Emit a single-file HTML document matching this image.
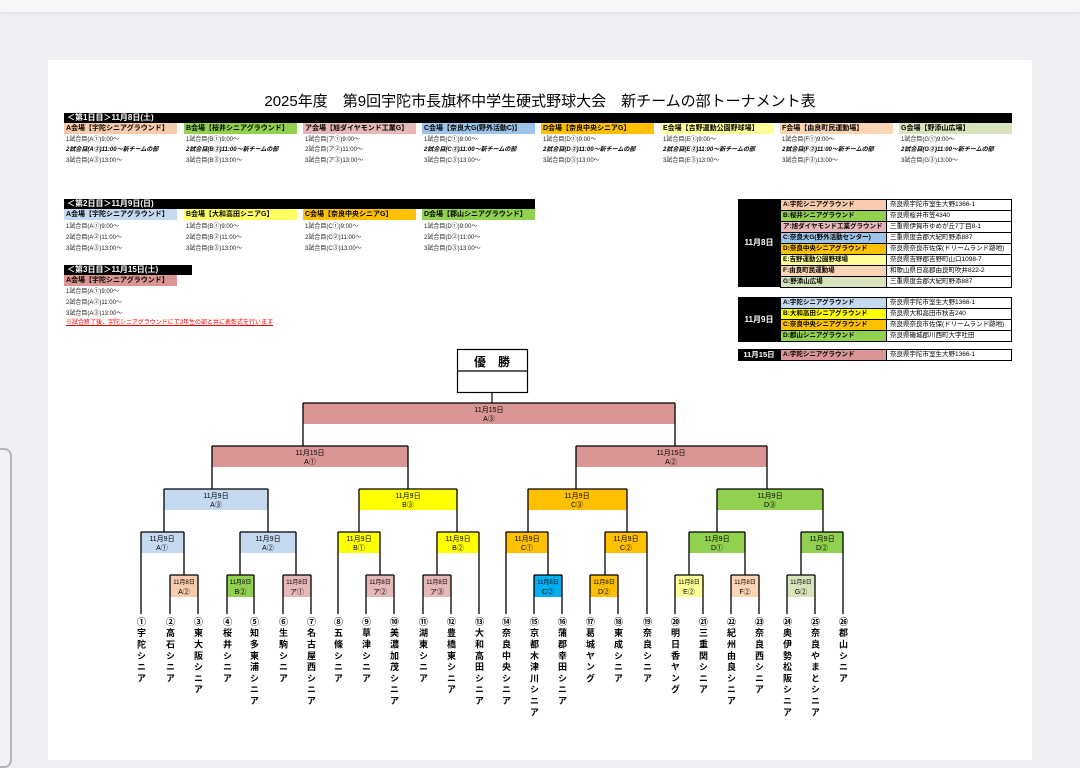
<!DOCTYPE html>
<html><head><meta charset="utf-8">
<style>
*{margin:0;padding:0;box-sizing:border-box}
body{width:1080px;height:748px;overflow:hidden;background:#efeff3;position:relative;font-family:"Liberation Sans","Noto Sans CJK JP",sans-serif;color:#000}
.a{position:absolute;white-space:nowrap}
.bar{position:absolute;background:#000;color:#fff;font-weight:bold;font-size:8px;line-height:9px;padding-left:3px}
.hd{position:absolute;width:113px;height:11px;font-size:7px;font-weight:bold;line-height:11px;padding-left:2px}
.r{position:absolute;font-size:6px;line-height:8px;white-space:nowrap;color:#222}
.bi{font-weight:bold;font-style:italic;color:#000}
.tb{position:absolute;border:1px solid #000;font-size:6.5px;line-height:10px;white-space:nowrap;overflow:hidden}
.tn{font-weight:bold;padding-left:2px;height:10px}
.ad{padding-left:3px;background:#fff;height:10px}
.tm{position:absolute;top:617px;width:12px;font-size:9px;font-weight:bold;writing-mode:vertical-rl;text-orientation:upright;letter-spacing:2.3px;line-height:12px}
</style></head><body>
<div class="a" style="left:0;top:0;width:1080px;height:12px;background:#f7f7fa;box-shadow:0 1px 3px rgba(0,0,0,.08)"></div>
<div class="a" style="left:-20px;top:448px;width:32px;height:320px;border:2px solid #b4b4b8;border-radius:8px;background:#f2f2f6"></div>
<div class="a" style="left:48px;top:60px;width:984px;height:700px;background:#fff"></div>

<div class="a" style="left:0;top:93px;width:1080px;text-align:center;font-size:15px;line-height:18px">2025年度　第9回宇陀市長旗杯中学生硬式野球大会　新チームの部トーナメント表</div>

<!-- Day1 -->
<div class="bar" style="left:64px;top:113px;width:948px;height:10px">＜第1日目＞11月8日(土)</div>
<div class="hd" style="left:64px;top:123px;background:#f8cbad">A会場【宇陀シニアグラウンド】</div>
<div class="hd" style="left:184px;top:123px;background:#92d050">B会場【桜井シニアグラウンド】</div>
<div class="hd" style="left:303px;top:123px;background:#e6b8b7">ア会場【旭ダイヤモンド工業G】</div>
<div class="hd" style="left:422px;top:123px;background:#9dc3e6">C会場【奈良大G(野外活動C)】</div>
<div class="hd" style="left:541px;top:123px;background:#ffc000">D会場【奈良中央シニアG】</div>
<div class="hd" style="left:661px;top:123px;background:#ffff99">E会場【吉野運動公園野球場】</div>
<div class="hd" style="left:780px;top:123px;background:#fcd5b4">F会場【由良町民運動場】</div>
<div class="hd" style="left:899px;top:123px;background:#d8e4bc">G会場【野添山広場】</div>

<div class="r" style="left:66px;top:136px">1試合目(A①)9:00～</div>
<div class="r bi" style="left:66px;top:146px">2試合目(A②)11:00～新チームの部</div>
<div class="r" style="left:66px;top:157px">3試合目(A③)13:00～</div>
<div class="r" style="left:186px;top:136px">1試合目(B①)9:00～</div>
<div class="r bi" style="left:186px;top:146px">2試合目(B②)11:00～新チームの部</div>
<div class="r" style="left:186px;top:157px">3試合目(B③)13:00～</div>
<div class="r" style="left:305px;top:136px">1試合目(ア①)9:00～</div>
<div class="r" style="left:305px;top:146px">2試合目(ア②)11:00～</div>
<div class="r" style="left:305px;top:157px">3試合目(ア③)13:00～</div>
<div class="r" style="left:424px;top:136px">1試合目(C①)9:00～</div>
<div class="r bi" style="left:424px;top:146px">2試合目(C②)11:00～新チームの部</div>
<div class="r" style="left:424px;top:157px">3試合目(C③)13:00～</div>
<div class="r" style="left:543px;top:136px">1試合目(D①)9:00～</div>
<div class="r bi" style="left:543px;top:146px">2試合目(D②)11:00～新チームの部</div>
<div class="r" style="left:543px;top:157px">3試合目(D③)13:00～</div>
<div class="r" style="left:663px;top:136px">1試合目(E①)9:00～</div>
<div class="r bi" style="left:663px;top:146px">2試合目(E②)11:00～新チームの部</div>
<div class="r" style="left:663px;top:157px">3試合目(E③)13:00～</div>
<div class="r" style="left:782px;top:136px">1試合目(F①)9:00～</div>
<div class="r bi" style="left:782px;top:146px">2試合目(F②)11:00～新チームの部</div>
<div class="r" style="left:782px;top:157px">3試合目(F③)13:00～</div>
<div class="r" style="left:901px;top:136px">1試合目(G①)9:00～</div>
<div class="r bi" style="left:901px;top:146px">2試合目(G②)11:00～新チームの部</div>
<div class="r" style="left:901px;top:157px">3試合目(G③)13:00～</div>

<!-- Day2 -->
<div class="bar" style="left:64px;top:199px;width:471px;height:10px">＜第2日目＞11月9日(日)</div>
<div class="hd" style="left:64px;top:209px;background:#c5d9f1">A会場【宇陀シニアグラウンド】</div>
<div class="hd" style="left:184px;top:209px;background:#ffff66">B会場【大和高田シニアG】</div>
<div class="hd" style="left:303px;top:209px;background:#ffc000">C会場【奈良中央シニアG】</div>
<div class="hd" style="left:422px;top:209px;background:#92d050">D会場【郡山シニアグラウンド】</div>
<div class="r" style="left:66px;top:223px">1試合目(A①)9:00～</div>
<div class="r" style="left:66px;top:234px">2試合目(A②)11:00～</div>
<div class="r" style="left:66px;top:245px">3試合目(A③)13:00～</div>
<div class="r" style="left:186px;top:223px">1試合目(B①)9:00～</div>
<div class="r" style="left:186px;top:234px">2試合目(B②)11:00～</div>
<div class="r" style="left:186px;top:245px">3試合目(B③)13:00～</div>
<div class="r" style="left:305px;top:223px">1試合目(C①)9:00～</div>
<div class="r" style="left:305px;top:234px">2試合目(C②)11:00～</div>
<div class="r" style="left:305px;top:245px">3試合目(C③)13:00～</div>
<div class="r" style="left:424px;top:223px">1試合目(D①)9:00～</div>
<div class="r" style="left:424px;top:234px">2試合目(D②)11:00～</div>
<div class="r" style="left:424px;top:245px">3試合目(D③)13:00～</div>

<!-- Day3 -->
<div class="bar" style="left:64px;top:265px;width:128px;height:10px">＜第3日目＞11月15日(土)</div>
<div class="hd" style="left:64px;top:275px;background:#da9694">A会場【宇陀シニアグラウンド】</div>
<div class="r" style="left:66px;top:288px">1試合目(A①)9:00～</div>
<div class="r" style="left:66px;top:299px">2試合目(A②)11:00～</div>
<div class="r" style="left:66px;top:310px">3試合目(A③)13:00～</div>
<div class="r" style="left:66px;top:319px;color:#e00;text-decoration:underline">※試合終了後、宇陀シニアグラウンドにて3年生の部と共に表彰式を行います</div>

<!-- Right table -->
<div class="a" style="left:738px;top:199px;width:42px;height:88px;background:#000;color:#fff;font-weight:bold;font-size:8px;line-height:88px;text-align:center">11月8日</div>
<div class="a" style="left:780px;top:199px;width:232px">
<div class="tb" style="position:relative;width:232px">
<div style="display:flex"><div class="tn" style="width:105px;background:#f8cbad">A:宇陀シニアグラウンド</div><div class="ad" style="border-left:1px solid #000;flex:1">奈良県宇陀市室生大野1366-1</div></div>
<div style="display:flex;border-top:1px solid #000"><div class="tn" style="width:105px;background:#92d050">B:桜井シニアグラウンド</div><div class="ad" style="border-left:1px solid #000;flex:1">奈良県桜井市笠4340</div></div>
<div style="display:flex;border-top:1px solid #000"><div class="tn" style="width:105px;background:#e6b8b7">ア:旭ダイヤモンド工業グラウンド</div><div class="ad" style="border-left:1px solid #000;flex:1">三重県伊賀市ゆめが丘7丁目8-1</div></div>
<div style="display:flex;border-top:1px solid #000"><div class="tn" style="width:105px;background:#9dc3e6">C:奈良大G(野外活動センター)</div><div class="ad" style="border-left:1px solid #000;flex:1">三重県度会郡大紀町野添887</div></div>
<div style="display:flex;border-top:1px solid #000"><div class="tn" style="width:105px;background:#ffc000">D:奈良中央シニアグラウンド</div><div class="ad" style="border-left:1px solid #000;flex:1">奈良県奈良市佐保(ドリームランド跡地)</div></div>
<div style="display:flex;border-top:1px solid #000"><div class="tn" style="width:105px;background:#ffff99">E:吉野運動公園野球場</div><div class="ad" style="border-left:1px solid #000;flex:1">奈良県吉野郡吉野町山口1098-7</div></div>
<div style="display:flex;border-top:1px solid #000"><div class="tn" style="width:105px;background:#fcd5b4">F:由良町民運動場</div><div class="ad" style="border-left:1px solid #000;flex:1">和歌山県日高郡由良町吹井822-2</div></div>
<div style="display:flex;border-top:1px solid #000"><div class="tn" style="width:105px;background:#d8e4bc">G:野添山広場</div><div class="ad" style="border-left:1px solid #000;flex:1">三重県度会郡大紀町野添887</div></div>
</div></div>

<div class="a" style="left:738px;top:297px;width:42px;height:45px;background:#000;color:#fff;font-weight:bold;font-size:8px;line-height:45px;text-align:center">11月9日</div>
<div class="a" style="left:780px;top:297px;width:232px">
<div class="tb" style="position:relative;width:232px">
<div style="display:flex"><div class="tn" style="width:105px;background:#c5d9f1">A:宇陀シニアグラウンド</div><div class="ad" style="border-left:1px solid #000;flex:1">奈良県宇陀市室生大野1366-1</div></div>
<div style="display:flex;border-top:1px solid #000"><div class="tn" style="width:105px;background:#ffff00">B:大和高田シニアグラウンド</div><div class="ad" style="border-left:1px solid #000;flex:1">奈良県大和高田市秋吉240</div></div>
<div style="display:flex;border-top:1px solid #000"><div class="tn" style="width:105px;background:#ffc000">C:奈良中央シニアグラウンド</div><div class="ad" style="border-left:1px solid #000;flex:1">奈良県奈良市佐保(ドリームランド跡地)</div></div>
<div style="display:flex;border-top:1px solid #000"><div class="tn" style="width:105px;background:#92d050">D:郡山シニアグラウンド</div><div class="ad" style="border-left:1px solid #000;flex:1">奈良県磯城郡川西町大字吐田</div></div>
</div></div>

<div class="a" style="left:738px;top:349px;width:42px;height:12px;background:#000;color:#fff;font-weight:bold;font-size:7.5px;line-height:12px;text-align:center">11月15日</div>
<div class="a" style="left:780px;top:349px;width:232px">
<div class="tb" style="position:relative;width:232px">
<div style="display:flex"><div class="tn" style="width:105px;background:#da9694">A:宇陀シニアグラウンド</div><div class="ad" style="border-left:1px solid #000;flex:1">奈良県宇陀市室生大野1366-1</div></div>
</div></div>

<!-- Bracket -->
<svg class="a" style="left:0;top:0" width="1080" height="748" font-family="Liberation Sans, Noto Sans CJK JP, sans-serif">
<g fill="none" stroke="#000" stroke-width="1.2">
<rect x="457.5" y="349.5" width="70" height="43" fill="#fff"/>
<line x1="457" y1="371" x2="528" y2="371"/>
<line x1="492" y1="393" x2="492" y2="403"/>
</g>
<text x="492" y="366" font-size="12" font-weight="bold" text-anchor="middle">優　勝</text>
<g font-size="7" text-anchor="middle" fill="#000">
<rect x="303" y="403" width="372" height="21" fill="#da9694"/>
<text x="489" y="412">11月15日</text><text x="489" y="421">A③</text>
<rect x="212" y="446" width="196" height="21" fill="#da9694"/>
<text x="310" y="455">11月15日</text><text x="310" y="464">A①</text>
<rect x="576" y="446" width="191" height="21" fill="#da9694"/>
<text x="671" y="455">11月15日</text><text x="671" y="464">A②</text>
<rect x="164" y="489" width="104" height="21" fill="#c5d9f1"/>
<text x="216" y="498">11月9日</text><text x="216" y="507">A③</text>
<rect x="359" y="489" width="98" height="21" fill="#ffff00"/>
<text x="408" y="498">11月9日</text><text x="408" y="507">B③</text>
<rect x="528" y="489" width="99" height="21" fill="#ffc000"/>
<text x="577" y="498">11月9日</text><text x="577" y="507">C③</text>
<rect x="717" y="489" width="106" height="21" fill="#92d050"/>
<text x="770" y="498">11月9日</text><text x="770" y="507">D③</text>
<rect x="141" y="532" width="43" height="21" fill="#c5d9f1"/>
<text x="162" y="541">11月9日</text><text x="162" y="550">A①</text>
<rect x="240" y="532" width="56" height="21" fill="#c5d9f1"/>
<text x="268" y="541">11月9日</text><text x="268" y="550">A②</text>
<rect x="338" y="532" width="42" height="21" fill="#ffff00"/>
<text x="359" y="541">11月9日</text><text x="359" y="550">B①</text>
<rect x="437" y="532" width="42" height="21" fill="#ffff00"/>
<text x="458" y="541">11月9日</text><text x="458" y="550">B②</text>
<rect x="506" y="532" width="42" height="21" fill="#ffc000"/>
<text x="527" y="541">11月9日</text><text x="527" y="550">C①</text>
<rect x="605" y="532" width="42" height="21" fill="#ffc000"/>
<text x="626" y="541">11月9日</text><text x="626" y="550">C②</text>
<rect x="689" y="532" width="56" height="21" fill="#92d050"/>
<text x="717" y="541">11月9日</text><text x="717" y="550">D①</text>
<rect x="801" y="532" width="42" height="21" fill="#92d050"/>
<text x="822" y="541">11月9日</text><text x="822" y="550">D②</text>
</g>
<g font-size="6" text-anchor="middle" fill="#000">
<rect x="170" y="575" width="28" height="22" fill="#f8cbad"/><text x="184" y="584">11月8日</text><text x="184" y="594" font-size="7">A②</text>
<rect x="227" y="575" width="27" height="22" fill="#92d050"/><text x="240.5" y="584">11月8日</text><text x="240.5" y="594" font-size="7">B②</text>
<rect x="283" y="575" width="28" height="22" fill="#e6b8b7"/><text x="297" y="584">11月8日</text><text x="297" y="594" font-size="7">ア①</text>
<rect x="366" y="575" width="28" height="22" fill="#e6b8b7"/><text x="380" y="584">11月8日</text><text x="380" y="594" font-size="7">ア②</text>
<rect x="423" y="575" width="28" height="22" fill="#e6b8b7"/><text x="437" y="584">11月8日</text><text x="437" y="594" font-size="7">ア③</text>
<rect x="534" y="575" width="28" height="22" fill="#00b0f0"/><text x="548" y="584">11月8日</text><text x="548" y="594" font-size="7">C②</text>
<rect x="590" y="575" width="28" height="22" fill="#ffc000"/><text x="604" y="584">11月8日</text><text x="604" y="594" font-size="7">D②</text>
<rect x="675" y="575" width="28" height="22" fill="#ffff99"/><text x="689" y="584">11月8日</text><text x="689" y="594" font-size="7">E②</text>
<rect x="731" y="575" width="28" height="22" fill="#fcd5b4"/><text x="745" y="584">11月8日</text><text x="745" y="594" font-size="7">F②</text>
<rect x="787" y="575" width="28" height="22" fill="#d8e4bc"/><text x="801" y="584">11月8日</text><text x="801" y="594" font-size="7">G②</text>
</g>
<g stroke="#000" stroke-width="1.3" fill="none">
<path d="M303 403H675M212 446H408M576 446H767M164 489H268M359 489H457M528 489H627M717 489H823
M141 532H184M240 532H296M338 532H380M437 532H479M506 532H548M605 532H647M689 532H745M801 532H843
M170 575H198M227 575H254M283 575H311M366 575H394M423 575H451M534 575H562M590 575H618M675 575H703M731 575H759M787 575H815"/>
<path d="M303 403V446M675 403V446
M212 446V489M408 446V489M576 446V489M767 446V489
M164 489V532M268 489V532M359 489V532M457 489V532M528 489V532M627 489V532M717 489V532M823 489V532
M141 532V614M184 532V575M240 532V575M296 532V575M338 532V614M380 532V575M437 532V575M479 532V614
M506 532V614M548 532V575M605 532V575M647 532V614M689 532V575M745 532V575M801 532V575M843 532V614
M170 575V614M198 575V614M227 575V614M254 575V614M283 575V614M311 575V614M366 575V614M394 575V614M423 575V614M451 575V614
M534 575V614M562 575V614M590 575V614M618 575V614M675 575V614M703 575V614M731 575V614M759 575V614M787 575V614M815 575V614"/>
</g>
</svg>

<!-- Teams -->
<div class="tm" style="left:135px">①宇陀シニア</div>
<div class="tm" style="left:164px">②高石シニア</div>
<div class="tm" style="left:192px">③東大阪シニア</div>
<div class="tm" style="left:221px">④桜井シニア</div>
<div class="tm" style="left:248px">⑤知多東浦シニア</div>
<div class="tm" style="left:277px">⑥生駒シニア</div>
<div class="tm" style="left:305px">⑦名古屋西シニア</div>
<div class="tm" style="left:332px">⑧五條シニア</div>
<div class="tm" style="left:360px">⑨草津シニア</div>
<div class="tm" style="left:388px">⑩美濃加茂シニア</div>
<div class="tm" style="left:417px">⑪湖東シニア</div>
<div class="tm" style="left:445px">⑫豊橋東シニア</div>
<div class="tm" style="left:473px">⑬大和高田シニア</div>
<div class="tm" style="left:500px">⑭奈良中央シニア</div>
<div class="tm" style="left:528px">⑮京都木津川シニア</div>
<div class="tm" style="left:556px">⑯蒲郡幸田シニア</div>
<div class="tm" style="left:584px">⑰葛城ヤング</div>
<div class="tm" style="left:612px">⑱東成シニア</div>
<div class="tm" style="left:641px">⑲奈良シニア</div>
<div class="tm" style="left:669px">⑳明日香ヤング</div>
<div class="tm" style="left:697px">㉑三重関シニア</div>
<div class="tm" style="left:725px">㉒紀州由良シニア</div>
<div class="tm" style="left:753px">㉓奈良西シニア</div>
<div class="tm" style="left:781px">㉔奥伊勢松阪シニア</div>
<div class="tm" style="left:809px">㉕奈良やまとシニア</div>
<div class="tm" style="left:837px">㉖郡山シニア</div>
</body></html>
